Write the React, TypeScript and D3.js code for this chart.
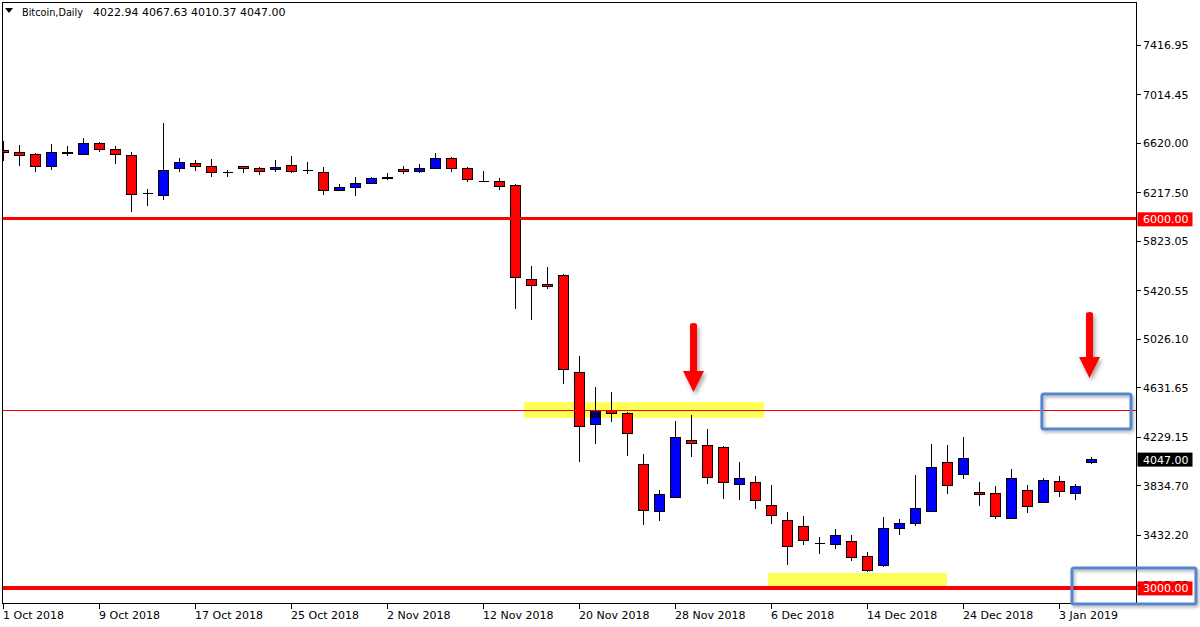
import React from "react";
import * as d3 from "d3";

// ---- Data (Bitcoin, Daily) ----
const opens = [6559, 6541, 6525, 6427, 6529, 6525, 6614, 6565, 6516, 6209, 6191, 6411, 6451, 6427, 6378, 6427, 6411, 6402, 6435, 6394, 6378, 6232, 6256, 6289, 6329, 6402, 6386, 6411, 6492, 6411, 6306, 6305, 6267, 5508, 5468, 5541, 4753, 4330, 4444, 4419, 4005, 3623, 3737, 4200, 4159, 4143, 3842, 3858, 3672, 3550, 3501, 3364, 3355, 3379, 3257, 3184, 3485, 3525, 3623, 4021, 3923, 3777, 3769, 3566, 3793, 3696, 3867, 3769, 4022.94];
const highs = [6635, 6600, 6533, 6608, 6592, 6655, 6622, 6592, 6541, 6240, 6776, 6494, 6476, 6484, 6399, 6429, 6419, 6476, 6511, 6459, 6419, 6281, 6338, 6338, 6370, 6427, 6443, 6533, 6500, 6424, 6386, 6329, 6283, 5617, 5609, 5549, 4885, 4631, 4590, 4432, 4088, 3796, 4357, 4405, 4292, 4151, 4024, 3910, 3836, 3615, 3585, 3411, 3476, 3428, 3290, 3574, 3558, 3918, 4170, 4162, 4227, 3861, 3826, 3964, 3834, 3891, 3907, 3842, 4067.63];
const lows = [6472, 6432, 6383, 6399, 6513, 6525, 6541, 6443, 6053, 6107, 6151, 6378, 6391, 6338, 6342, 6370, 6354, 6383, 6370, 6362, 6191, 6224, 6183, 6281, 6316, 6362, 6370, 6411, 6378, 6297, 6297, 6232, 5265, 5180, 5427, 4655, 4021, 4167, 4351, 4075, 3509, 3546, 3728, 4067, 3847, 3725, 3717, 3644, 3522, 3189, 3346, 3278, 3314, 3216, 3127, 3168, 3428, 3506, 3623, 3766, 3888, 3668, 3558, 3558, 3612, 3696, 3742, 3712, 4010.37];
const closes = [6541, 6516, 6427, 6541, 6543, 6614, 6565, 6525, 6199, 6207, 6394, 6459, 6427, 6378, 6370, 6411, 6386, 6419, 6386, 6386, 6232, 6256, 6289, 6329, 6338, 6386, 6411, 6492, 6411, 6321, 6304, 6264, 5525, 5460, 5452, 4777, 4314, 4444, 4419, 4257, 3631, 3761, 4224, 4176, 3899, 3858, 3891, 3712, 3590, 3338, 3387, 3362, 3428, 3249, 3143, 3485, 3525, 3647, 3980, 3834, 4054, 3761, 3582, 3891, 3663, 3875, 3785, 3826, 4047.0];

const dateLabels = ["1 Oct 2018", "9 Oct 2018", "17 Oct 2018", "25 Oct 2018", "2 Nov 2018", "12 Nov 2018", "20 Nov 2018", "28 Nov 2018", "6 Dec 2018", "14 Dec 2018", "24 Dec 2018", "3 Jan 2019"];
const dateBars = [0, 6, 12, 18, 24, 30, 36, 42, 48, 54, 60, 66];
const priceTicks = [7416.95, 7014.45, 6620.0, 6217.5, 5823.05, 5420.55, 5026.1, 4631.65, 4229.15, 3834.7, 3432.2, 3027.75];

const keyLevels = [6000, 3000];
const thinLevel = [4445];
const lastPrice = [4047.0];

const zoneStart = [32.5, 47.78];
const zoneEnd = [47.5, 58.94];
const zoneTop = [4511, 3121];
const zoneBottom = [4381, 3016];

const arrowBar = [43.125, 67.875];
const arrowTop = [5153, 5243];
const arrowTip = [4592, 4706];

const boxStart = [64.9, 66.78];
const boxEnd = [70.47, 74.53];
const boxTop = [4576, 3162];
const boxBottom = [4292, 2869];

export default function App() {
  const L = 2.5, R = 1136.5, T = 2.5, B = 603.5;
  const x = d3.scaleLinear().domain([0, 68]).range([3.5, 1091.5]);
  const y = d3.scaleLinear().domain([3027.75, 7416.95]).range([584.5, 44.5]);
  const font = "'DejaVu Sans', Verdana, sans-serif";

  const candles = opens.map((o, i) => {
    const c = closes[i];
    const cx = x(i);
    const top = y(Math.max(o, c));
    const bot = y(Math.min(o, c));
    const col = c > o ? "#0000FF" : "#FF0000";
    const h = bot - top;
    return (
      <g key={i}>
        <line x1={cx} x2={cx} y1={y(highs[i])} y2={y(lows[i])} stroke="#000" strokeWidth={1} />
        {h < 1 ? (
          <line x1={cx - 5} x2={cx + 5} y1={top} y2={top} stroke="#000" strokeWidth={1.2} />
        ) : (
          <rect x={cx - 5} y={top} width={10} height={h} fill={col} stroke="#000" strokeWidth={1} />
        )}
      </g>
    );
  });

  const arrowPath = (k: number) => {
    const cx = x(arrowBar[k]);
    const yt = y(arrowTop[k]);
    const yp = y(arrowTip[k]);
    const yh = yp - 21;
    return `M${cx - 3.5},${yt + 2} Q${cx - 3.5},${yt} ${cx},${yt} Q${cx + 3.5},${yt} ${cx + 3.5},${yt + 2} L${cx + 3.5},${yh} L${cx + 10.5},${yh} L${cx},${yp} L${cx - 10.5},${yh} L${cx - 3.5},${yh} Z`;
  };

  return (
    <svg
      width={1200}
      height={627}
      style={{ position: "absolute", left: 0, top: 0, display: "block", background: "#fff" }}
      fontFamily={font}
      fontSize={11}
    >
      <defs>
        <clipPath id="plot">
          <rect x={L} y={T} width={R - L} height={B - T} />
        </clipPath>
        <filter id="shadow" x="-30%" y="-30%" width="160%" height="160%">
          <feDropShadow dx={2} dy={3} stdDeviation={2} floodColor="#000" floodOpacity={0.35} />
        </filter>
        <filter id="shadow2" x="-30%" y="-30%" width="160%" height="160%">
          <feDropShadow dx={1.5} dy={2} stdDeviation={1.5} floodColor="#000" floodOpacity={0.3} />
        </filter>
      </defs>
      <rect x={0} y={0} width={1200} height={627} fill="#fff" />

      {/* header */}
      <path d="M5,8 L13,8 L9,13 Z" fill="#000" />
      <text x={22} y={16} fill="#000" textLength={61} lengthAdjust="spacingAndGlyphs">Bitcoin,Daily</text>
      <text x={93} y={16} fill="#000">4022.94 4067.63 4010.37 4047.00</text>

      <g clipPath="url(#plot)" shapeRendering="crispEdges">
        {candles}
        {zoneStart.map((s, k) => (
          <rect
            key={k}
            x={x(s)}
            y={y(zoneTop[k])}
            width={x(zoneEnd[k]) - x(s)}
            height={y(zoneBottom[k]) - y(zoneTop[k])}
            fill="#FFFF5A"
            style={{ mixBlendMode: "multiply" }}
          />
        ))}
        {thinLevel.map((p, k) => (
          <line key={k} x1={L} x2={R} y1={y(p)} y2={y(p)} stroke="#FF0000" strokeWidth={1} />
        ))}
        <line x1={L} x2={R} y1={y(keyLevels[0])} y2={y(keyLevels[0])} stroke="#FF0000" strokeWidth={3} />
        <line x1={L} x2={R} y1={y(keyLevels[1])} y2={y(keyLevels[1])} stroke="#FF0000" strokeWidth={4} />
      </g>

      {/* arrows */}
      {arrowBar.map((_, k) => (
        <path key={k} d={arrowPath(k)} fill="#FF0000" filter="url(#shadow)" />
      ))}

      {/* frame */}
      <rect x={L} y={T} width={R - L} height={B - T} fill="none" stroke="#000" strokeWidth={1} shapeRendering="crispEdges" />

      {/* right axis */}
      <g shapeRendering="crispEdges">
        {priceTicks.map((p, k) => (
          <line key={k} x1={R} x2={R + 4} y1={Math.round(y(p)) + 0.5} y2={Math.round(y(p)) + 0.5} stroke="#000" />
        ))}
      </g>
      {priceTicks.map((p, k) => (
        <text key={k} x={1143} y={y(p) + 4.5} fill="#000">{p.toFixed(2)}</text>
      ))}

      {/* bottom axis */}
      <g shapeRendering="crispEdges">
        {dateBars.map((b, k) => (
          <line key={k} x1={x(b)} x2={x(b)} y1={B} y2={B + 5} stroke="#000" />
        ))}
      </g>
      {dateBars.map((b, k) => (
        <text key={k} x={x(b) - 0.5} y={619} fill="#000">{dateLabels[k]}</text>
      ))}

      {/* price labels */}
      {keyLevels.map((p, k) => (
        <g key={k}>
          <rect x={1137.5} y={y(p) - 6.5} width={55} height={14} fill="#FF0000" />
          <text x={1143} y={y(p) + 4.5} fill="#fff">{p.toFixed(2)}</text>
        </g>
      ))}
      {lastPrice.map((p, k) => (
        <g key={k}>
          <rect x={1137.5} y={y(p) - 6.5} width={55} height={14} fill="#000" />
          <text x={1143} y={y(p) + 4.5} fill="#fff">{p.toFixed(2)}</text>
        </g>
      ))}

      {/* blue boxes */}
      {boxStart.map((s, k) => (
        <rect
          key={k}
          x={x(s)}
          y={y(boxTop[k])}
          width={x(boxEnd[k]) - x(s)}
          height={y(boxBottom[k]) - y(boxTop[k])}
          rx={2}
          fill="none"
          stroke="#5585CC"
          strokeWidth={3}
          filter="url(#shadow2)"
        />
      ))}
    </svg>
  );
}
